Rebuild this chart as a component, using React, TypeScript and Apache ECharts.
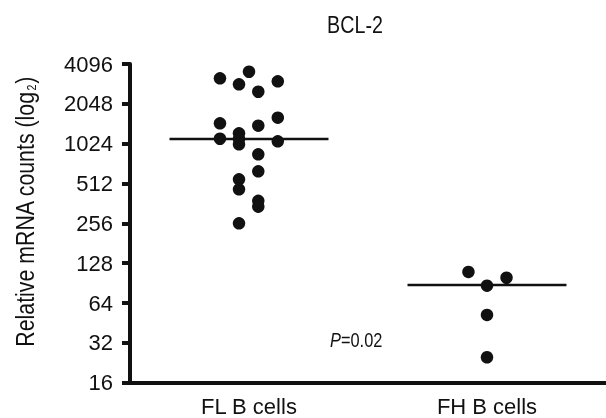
import React, { useEffect, useRef } from "react";
import * as echarts from "echarts";

const categories = ["FL B cells", "FH B cells"];
const yTickValues = [16, 32, 64, 128, 256, 512, 1024, 2048, 4096];
// FL B cells: values and horizontal jitter (fraction of category band)
const flValues = [3581, 3191, 2877, 2529, 3030, 1459, 1400, 1609, 1116, 1226, 1111, 1013, 1067, 851, 633, 551, 463, 379, 342, 256];
const flJitter = [0, -0.122, -0.042, 0.039, 0.121, -0.122, 0.039, 0.121, -0.122, -0.042, -0.042, -0.042, 0.121, 0.039, 0.039, -0.042, -0.042, 0.039, 0.039, -0.042];
// FH B cells
const fhValues = [110, 86.5, 99.4, 52, 24.9];
const fhJitter = [-0.078, 0, 0.082, 0, 0];
const medians = [1113, 87.5];
const medianHalfWidth = 0.334;
const titleText = "BCL-2";
const pText = "0.02";

const FONT = "'Liberation Sans', Arial, sans-serif";
const INK = "#111";
const NARROW = 0.82;

export default function App() {
  const ref = useRef<HTMLDivElement>(null);
  useEffect(() => {
    if (!ref.current) return;
    const chart = echarts.init(ref.current, undefined, { renderer: "svg" });
    const fl = flValues.map((v, i) => [0 + flJitter[i], v]);
    const fh = fhValues.map((v, i) => [1 + fhJitter[i], v]);
    const medianSeries = medians.map((m, i) => ({
      type: "line",
      xAxisIndex: 1,
      data: [[i - medianHalfWidth, m], [i + medianHalfWidth, m]],
      symbol: "none",
      lineStyle: { color: INK, width: 2.5 },
      silent: true,
      z: 2,
    }));
    chart.setOption({
      animation: false,
      grid: { left: 130, top: 64, width: 479, height: 318.7, containLabel: false },
      xAxis: [
        {
          type: "category",
          data: categories,
          boundaryGap: true,
          axisLine: { lineStyle: { color: INK, width: 4 } },
          axisTick: { alignWithLabel: true, length: 8, lineStyle: { color: INK, width: 4 } },
          axisLabel: { fontFamily: FONT, fontSize: 22, color: INK, margin: 13 },
          splitLine: { show: false },
        },
        { type: "value", min: -0.5, max: 1.5, show: false },
      ],
      yAxis: {
        type: "log",
        logBase: 2,
        min: yTickValues[0],
        max: yTickValues[yTickValues.length - 1],
        interval: 1,
        axisLine: { show: true, onZero: false, lineStyle: { color: INK, width: 4 } },
        axisTick: { show: true, length: 8, lineStyle: { color: INK, width: 4 } },
        axisLabel: {
          fontFamily: FONT,
          fontSize: 22,
          color: INK,
          margin: 17,
          formatter: (v: number) => String(Math.round(v)),
        },
        splitLine: { show: false },
      },
      graphic: [
        {
          type: "text",
          x: 355,
          y: 25,
          scaleX: NARROW,
          style: { text: titleText, fontFamily: FONT, fontSize: 24, fill: INK, align: "center", verticalAlign: "middle" },
        },
        {
          type: "text",
          x: 330,
          y: 340,
          scaleX: NARROW,
          style: {
            text: "{i|P}=" + pText,
            fontFamily: FONT,
            fontSize: 20,
            fill: INK,
            align: "left",
            verticalAlign: "middle",
            rich: { i: { fontStyle: "italic", fontFamily: FONT, fontSize: 20, fill: INK } },
          },
        },
        {
          type: "text",
          x: 25,
          y: 212,
          rotation: Math.PI / 2,
          scaleX: NARROW,
          style: {
            text: "{a|Relative mRNA counts (log}{s|2}{a|)}",
            align: "center",
            verticalAlign: "middle",
            rich: {
              a: { fontFamily: FONT, fontSize: 26, fill: INK },
              s: { fontFamily: FONT, fontSize: 13, fill: INK, verticalAlign: "bottom", padding: [0, 1, 0, 1] },
            },
          },
        },
      ],
      series: [
        {
          type: "scatter",
          xAxisIndex: 1,
          data: fl,
          symbol: "circle",
          symbolSize: 12.5,
          itemStyle: { color: INK, opacity: 1 },
          z: 3,
        },
        {
          type: "scatter",
          xAxisIndex: 1,
          data: fh,
          symbol: "circle",
          symbolSize: 12.5,
          itemStyle: { color: INK, opacity: 1 },
          z: 3,
        },
        ...medianSeries,
      ],
    });
    return () => chart.dispose();
  }, []);
  return <div ref={ref} style={{ position: "fixed", left: 0, top: 0, width: 606, height: 418 }} />;
}
